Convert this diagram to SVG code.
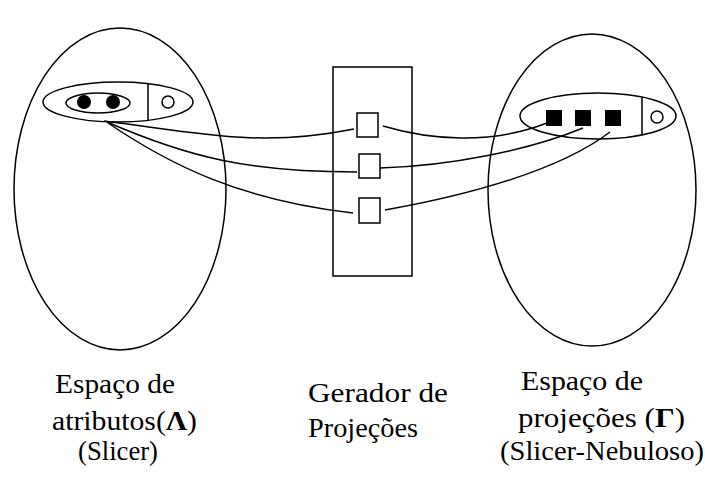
<svg xmlns="http://www.w3.org/2000/svg" width="705" height="477" viewBox="0 0 705 477">
<style>
.s{fill:none;stroke:#000;stroke-width:1.5}
.t{font-family:"Liberation Serif","Times New Roman",serif;font-size:28px;fill:#000}
.b{font-weight:bold}
</style>
<rect x="0" y="0" width="705" height="477" fill="#fff"/>
<g id="espaco-atributos">
<ellipse class="s" cx="120" cy="189" rx="106" ry="161"/>
<ellipse class="s" cx="118" cy="102" rx="75" ry="20"/>
<line class="s" x1="148" y1="84" x2="148" y2="120.5"/>
<ellipse class="s" cx="98" cy="103" rx="32" ry="10"/>
<circle cx="84" cy="102" r="7" fill="#000"/>
<circle cx="113" cy="102" r="7" fill="#000"/>
<circle class="s" cx="168" cy="102" r="6"/>
</g>
<g id="gerador">
<rect class="s" x="333" y="67" width="79" height="209"/>
<rect class="s" x="357" y="113" width="21" height="24"/>
<rect class="s" x="359" y="154" width="21" height="24"/>
<rect class="s" x="359" y="198" width="21" height="25"/>
</g>
<g id="espaco-projecoes">
<ellipse class="s" cx="592" cy="190" rx="104" ry="156"/>
<ellipse class="s" cx="598" cy="116" rx="78" ry="23"/>
<line class="s" x1="642" y1="97" x2="642" y2="135"/>
<rect x="546" y="110" width="16" height="16" fill="#000"/>
<rect x="575" y="110" width="16" height="16" fill="#000"/>
<rect x="605" y="110" width="16" height="16" fill="#000"/>
<circle class="s" cx="657" cy="117" r="6"/>
</g>
<g id="connectors">
<path class="s" d="M104,121 C200,133 260,148 354,129"/>
<path class="s" d="M107,122 C190,158 250,172 357,172"/>
<path class="s" d="M108,123 C170,165 240,200 353,213"/>
<path class="s" d="M383,126 C430,140 490,145 547,123"/>
<path class="s" d="M380,168 C450,166 530,150 583,128"/>
<path class="s" d="M385,210 C470,195 560,170 610,132"/>
</g>
<g id="labels">
<text class="t" x="55" y="393" textLength="120" lengthAdjust="spacingAndGlyphs">Espaço de</text>
<text class="t" x="52" y="430" textLength="145" lengthAdjust="spacingAndGlyphs">atributos(<tspan class="b">Λ</tspan>)</text>
<text class="t" x="78" y="460" textLength="80" lengthAdjust="spacingAndGlyphs">(Slicer)</text>
<text class="t" x="308" y="402" textLength="140" lengthAdjust="spacingAndGlyphs">Gerador de</text>
<text class="t" x="308" y="437" textLength="110" lengthAdjust="spacingAndGlyphs">Projeções</text>
<text class="t" x="521" y="390" textLength="122" lengthAdjust="spacingAndGlyphs">Espaço de</text>
<text class="t" x="518" y="427" textLength="167" lengthAdjust="spacingAndGlyphs">projeções (<tspan class="b">Γ</tspan>)</text>
<text class="t" x="500" y="460" textLength="204" lengthAdjust="spacingAndGlyphs">(Slicer-Nebuloso)</text>
</g>
</svg>
